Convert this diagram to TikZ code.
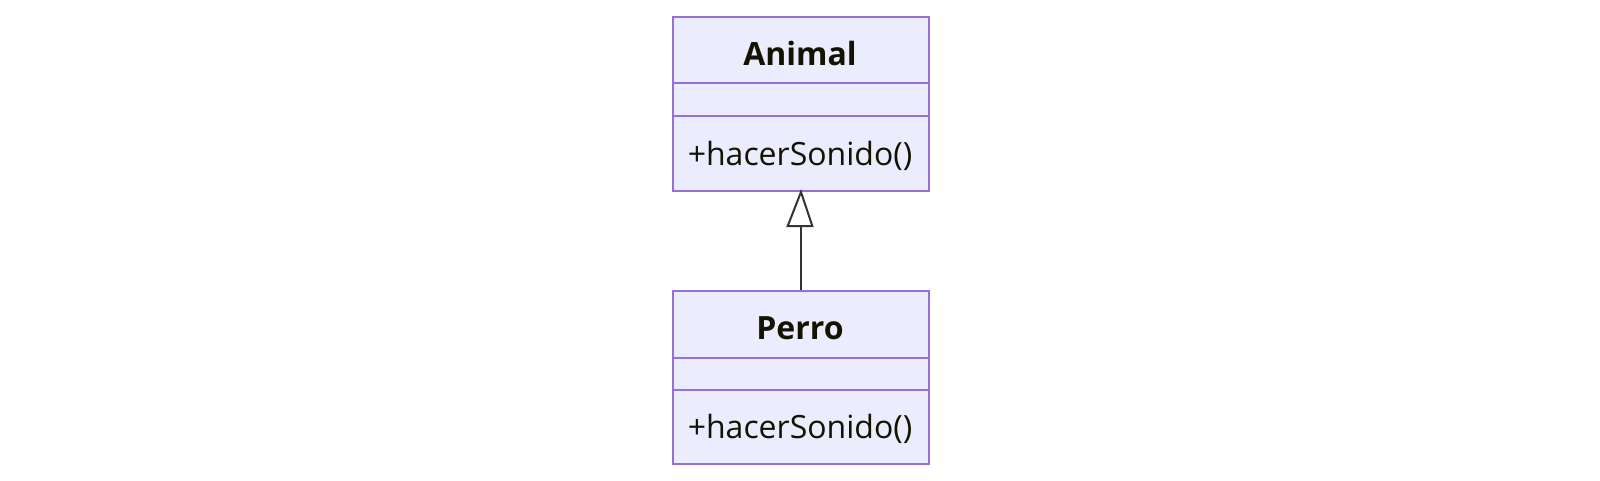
\documentclass[tikz,border=0pt]{standalone}
\usepackage{fontspec}
\setmainfont{Open Sans}
\definecolor{boxfill}{HTML}{ECECFF}
\definecolor{boxline}{HTML}{9370DB}
\definecolor{edge}{HTML}{333333}
\definecolor{txt}{HTML}{131300}
\begin{document}
\begin{tikzpicture}[x=1pt,y=-1pt,
  classbox/.style={draw=boxline,fill=boxfill,line width=2pt},
  divider/.style={draw=boxline,line width=2pt},
  titletext/.style={text=txt,font=\fontsize{32}{36}\selectfont\bfseries,inner sep=0pt},
  membertext/.style={text=txt,font=\fontsize{32}{36}\selectfont,inner sep=0pt},
  inherit/.style={draw=edge,line width=2pt}]
\useasboundingbox (0,0) rectangle (1600,480);
% Animal
\node[classbox,minimum width=256pt,minimum height=174pt,inner sep=0pt,anchor=north west] (animal) at (672,16) {};
\draw[divider] (672,83.3) -- (928,83.3);
\draw[divider] (672,116) -- (928,116);
\node[titletext] (animalname) at (800,53) {Animal};
\node[membertext] (animalm) at (800,156) {+hacerSonido()};
% Perro
\node[classbox,minimum width=256pt,minimum height=173.3pt,inner sep=0pt,anchor=north west] (perro) at (672,290) {};
\draw[divider] (672,358.3) -- (928,358.3);
\draw[divider] (672,390) -- (928,390);
\node[titletext] (perroname) at (800,328) {Perro};
\node[membertext] (perrom) at (800,429) {+hacerSonido()};
% inheritance
\coordinate (tip) at (animal.south);
\coordinate (base) at (800,226);
\draw[inherit] (perro.north) -- (perro.north |- base);
\draw[inherit,fill=white,line join=miter] (tip) -- (787.7,226) -- (812.3,226) -- cycle;
\end{tikzpicture}
\end{document}
